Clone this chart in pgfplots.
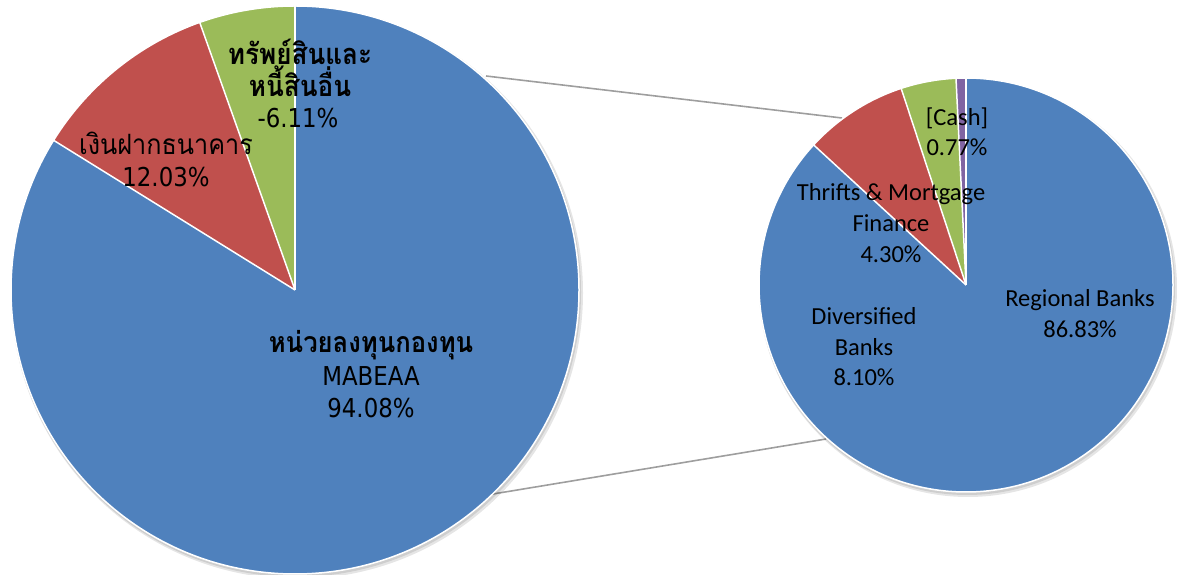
\documentclass[border=0pt]{standalone}
\usepackage{pgfplots}
\pgfplotsset{compat=1.18}
\usepackage{pgfplotstable}
\usepackage{fontspec}
\newfontfamily\tahfont{DejaVu Sans}[FakeStretch=0.88]
\newfontfamily\thaifont[Script=Thai,FakeStretch=0.9]{Loma}
\newfontfamily\califont{Carlito}
\definecolor{pieblue}{HTML}{4F81BD}
\definecolor{piered}{HTML}{C0504D}
\definecolor{piegreen}{HTML}{9BBB59}
\definecolor{piepurple}{HTML}{8064A2}

\pgfplotstableread{
value color
94.08 pieblue
12.03 piered
-6.11 piegreen
}\leftdata
\pgfplotstableread{
value color
86.83 pieblue
8.10 piered
4.30 piegreen
0.77 piepurple
}\rightdata

% #1 table, #2 cx, #3 cy, #4 radius
\newcommand\drawpie[4]{%
  \pgfplotstablegetrowsof{#1}%
  \pgfmathtruncatemacro\lastrow{\pgfplotsretval-1}%
  \def\total{0}%
  \pgfplotsforeachungrouped \ii in {0,...,\lastrow}{%
    \pgfplotstablegetelem{\ii}{value}\of#1%
    \pgfmathsetmacro\total{\total+abs(\pgfplotsretval)}}%
  \edef\doshadow{\noexpand\fill[black,opacity=0.10] (axis cs:#2+2,#3-3) circle[radius=#4+2];
    \noexpand\fill[black,opacity=0.10] (axis cs:#2+1,#3-2) circle[radius=#4+1];}%
  \doshadow
  \def\cum{0}%
  \pgfplotsforeachungrouped \ii in {0,...,\lastrow}{%
    \pgfplotstablegetelem{\ii}{value}\of#1\let\vv\pgfplotsretval
    \pgfplotstablegetelem{\ii}{color}\of#1\let\cc\pgfplotsretval
    \pgfmathsetmacro\aS{90-360*(\cum/\total)}%
    \pgfmathsetmacro\cum{\cum+abs(\vv)}%
    \pgfmathsetmacro\aE{90-360*(\cum/\total)}%
    \pgfmathsetmacro\px{#2+#4*cos(\aS)}%
    \pgfmathsetmacro\py{#3+#4*sin(\aS)}%
    \edef\doslice{\noexpand\fill[\cc] (axis cs:#2,#3) -- (axis cs:\px,\py) arc[start angle=\aS, end angle=\aE, radius=#4] -- cycle;}%
    \doslice
  }%
  \def\cum{0}%
  \pgfplotsforeachungrouped \ii in {0,...,\lastrow}{%
    \pgfplotstablegetelem{\ii}{value}\of#1\let\vv\pgfplotsretval
    \pgfmathsetmacro\aS{90-360*(\cum/\total)}%
    \pgfmathsetmacro\cum{\cum+abs(\vv)}%
    \pgfmathsetmacro\px{#2+#4*cos(\aS)}%
    \pgfmathsetmacro\py{#3+#4*sin(\aS)}%
    \edef\doline{\noexpand\draw[white,line width=1.5pt] (axis cs:#2,#3) -- (axis cs:\px,\py);}%
    \doline
  }%
  \edef\doring{\noexpand\draw[white,line width=1.5pt] (axis cs:#2,#3) circle[radius=#4];}%
  \doring
}

\begin{document}
\begin{tikzpicture}
\begin{axis}[
  x=1pt, y=1pt,
  xmin=0, xmax=1177, ymin=0, ymax=575,
  hide axis, clip=false, disabledatascaling,
]
\path (axis cs:0,0) rectangle (axis cs:1177,575);
% connector lines
\draw[black!38, line width=1.6pt] (axis cs:486,499) -- (axis cs:842,457);
\draw[black!38, line width=1.6pt] (axis cs:493,81) -- (axis cs:826,136);
\drawpie{\leftdata}{295}{285}{284}
\drawpie{\rightdata}{966}{290}{207}
% left labels
\node[anchor=base, font=\thaifont\bfseries\fontsize{29}{30}\selectfont] at (axis cs:300,510) {ทรัพย์สินและ};
\node[anchor=base, font=\thaifont\bfseries\fontsize{29}{30}\selectfont] at (axis cs:300,478) {หนี้สินอื่น};
\node[anchor=base, font=\tahfont\fontsize{26}{30}\selectfont] at (axis cs:298,447) {-6.11\%};
\node[anchor=base, font=\thaifont\fontsize{28}{30}\selectfont] at (axis cs:166,420) {เงินฝากธนาคาร};
\node[anchor=base, font=\tahfont\fontsize{26}{30}\selectfont] at (axis cs:166,388) {12.03\%};
\node[anchor=base, font=\thaifont\bfseries\fontsize{28.5}{30}\selectfont] at (axis cs:371,222) {หน่วยลงทุนกองทุน};
\node[anchor=base, font=\tahfont\fontsize{26}{30}\selectfont] at (axis cs:371,189) {MABEAA};
\node[anchor=base, font=\tahfont\fontsize{26}{30}\selectfont] at (axis cs:371,157) {94.08\%};
% right labels
\node[anchor=base, font=\califont\fontsize{24.5}{30}\selectfont] at (axis cs:957,449) {[Cash]};
\node[anchor=base, font=\califont\fontsize{24.5}{30}\selectfont] at (axis cs:957,419) {0.77\%};
\node[anchor=base, font=\califont\fontsize{24.5}{30}\selectfont] at (axis cs:891,374) {Thrifts \& Mortgage};
\node[anchor=base, font=\califont\fontsize{24.5}{30}\selectfont] at (axis cs:891,343) {Finance};
\node[anchor=base, font=\califont\fontsize{24.5}{30}\selectfont] at (axis cs:891,312) {4.30\%};
\node[anchor=base, font=\califont\fontsize{24.5}{30}\selectfont] at (axis cs:1080,268) {Regional Banks};
\node[anchor=base, font=\califont\fontsize{24.5}{30}\selectfont] at (axis cs:1080,237) {86.83\%};
\node[anchor=base, font=\califont\fontsize{24.5}{30}\selectfont] at (axis cs:864,250) {Diversified};
\node[anchor=base, font=\califont\fontsize{24.5}{30}\selectfont] at (axis cs:864,219) {Banks};
\node[anchor=base, font=\califont\fontsize{24.5}{30}\selectfont] at (axis cs:864,189) {8.10\%};
\end{axis}
\pgfresetboundingbox
\path[use as bounding box] (current axis.south west) rectangle (current axis.north east);
\end{tikzpicture}
\end{document}
